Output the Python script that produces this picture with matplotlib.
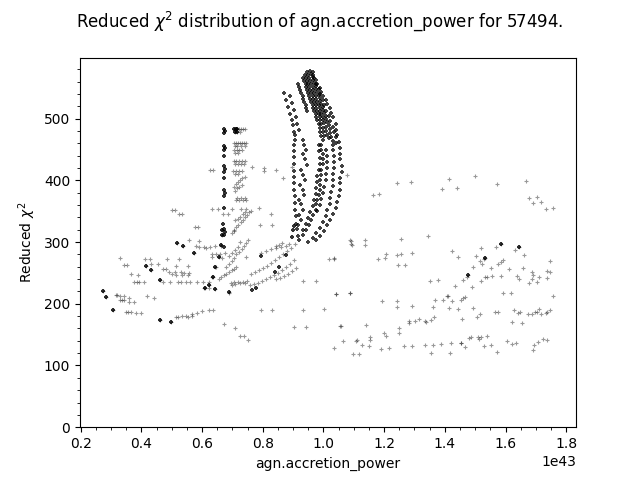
import numpy as np
import matplotlib
matplotlib.use("Agg")
import matplotlib.pyplot as plt

# x values in units of 1e43 (agn.accretion_power), y = reduced chi^2
left_x = [0.272,0.285,0.305,0.315,0.321,0.329,0.343,0.329,0.336,0.343,0.359,0.36,0.375,0.348,0.355,0.365,0.383,0.399,
          0.329,0.343,0.353,0.366,0.389,0.377,0.386,0.392,0.409,0.419,0.442,0.411,0.429,0.414,0.431,0.454,0.432,0.471,
          0.481,0.484,0.491,0.5,0.511,0.531,0.513,0.553,0.524,0.513,0.533,0.553,0.461,0.471,0.494,0.52,0.53,0.546,0.56,
          0.584,0.604,0.623,0.518,0.538,0.558,0.573,0.579,0.59,0.607,0.612,0.626,0.643,0.664,0.59,0.662,0.667,0.667,
          0.633,0.645,0.66,0.677,0.656,0.632,0.644,0.635,0.623,0.608,0.641,0.69,
          0.461,0.498,0.515,0.52,0.533,0.547,0.553,0.566,0.566,0.583,0.6,0.623,0.635,
          0.5,0.51,0.524,0.535,0.576,0.585,0.54,0.557,0.607,0.623,0.634,0.647,0.667]
left_y = [221,211,190,215,215,212,212,206,206,206,210,203,203,187,187,187,185,185,
          274,263,263,248,246,236,236,236,235,212,210,272,272,262,264,264,255,256,
          256,272,251,249,252,252,261,262,272,247,247,246,238,235,235,235,235,235,235,
          235,235,235,298,294,303,282,293,292,292,291,292,293,293,302,296,319,312,
          281,281,281,282,276,276,260,244,231,225,224,219,
          174,171,178,179,180,180,179,183,181,185,188,190,190,
          352,352,345,345,325,325,250,250,225,225,244,260,274]

# heavily overlapping (dark) points outside the big arcs
dark_x = [0.272,0.285,0.305,0.414,0.432,0.461,0.518,0.538,0.573,0.662,0.667,0.667,0.656,0.644,0.635,0.623,
          0.608,0.641,0.69,0.461,0.498,0.877,0.855,0.841,0.794,0.765,0.777,0.904,0.901,0.897,
          1.584,1.644,1.476,1.533,
          0.671,0.674,0.672,0.671,0.674,0.672,0.673,0.671,0.674,0.672,0.673,0.671,0.674,0.672,0.673,0.671,0.674,0.672,0.673,0.670,
          0.705,0.712,0.716,0.708,0.715]
dark_y = [221,211,190,262,255,238,298,294,282,296,319,312,276,260,244,231,
          225,224,219,174,171,279,260,252,277,222,225,326,320,309,
          297,292,246,274,
          484,480,477,456,453,450,440,423,418,413,404,385,380,374,356,322,317,311,292,330,
          483,483,483,478,478]

col_x = [0.705,0.712,0.716,0.722,0.729,0.736,0.742,0.708,0.715,0.725,
         0.705,0.712,0.718,0.725,0.732,0.739,0.745,0.708,0.715,0.729,0.742,
         0.705,0.715,0.722,0.732,0.709,0.719,
         0.705,0.712,0.722,0.732,0.742,0.708,0.718,0.728,0.738,
         0.702,0.712,0.722,0.732,0.708,0.718,
         0.705,0.712,0.719,0.726,0.733,0.740,0.708,0.716,0.723,0.730,
         0.712,0.722,0.735,0.745,0.716,0.728,0.740,
         0.627,0.637,0.766,0.805,0.805,0.844,0.895,0.868,
         0.632,0.654,0.669,0.684,0.700,0.728,0.744,0.788,0.827,
         0.705,0.712,0.72,0.727,0.734,0.741,0.748,0.755,0.762,0.71,0.718,0.726,0.735,0.742]
col_y = [483,483,483,483,483,483,483,478,478,478,
         461,461,461,461,461,461,461,456,456,456,456,
         450,450,450,450,445,445,
         432,432,432,432,432,427,427,427,427,
         415,415,415,415,410,410,
         390,394,398,401,404,406,383,387,390,393,
         368,368,368,368,372,372,372,
         417,417,421,420,416,417,422,404,
         353,353,346,346,353,353,353,355,346,
         320,324,328,332,336,340,344,348,351,335,338,341,345,349]

band_x = [0.656,0.664,0.672,0.68,0.689,0.697,0.705,0.713,
          0.68,0.689,0.697,0.705,0.713,0.722,0.73,0.737,0.744,0.75,
          0.69,0.70,0.71,0.717,0.724,0.70,0.705,
          0.696,0.706,0.72,0.736,0.749,0.744,
          0.673,0.71,0.725,0.738,0.75,0.689,0.698,0.71,0.725,0.74,
          0.907,0.894,0.881,0.868,0.855,0.841,0.828,0.815,0.802,0.789,0.775,0.762,
          0.904,0.891,0.878,0.864,0.851,0.838,0.825,0.812,0.798,0.785,0.772,0.759,
          0.911,0.898,0.884,0.871,0.858,0.845,
          0.795,0.811,0.828,0.845,0.861,0.878,0.888]
band_y = [240,243,246,249,252,254,257,260,
          259,265,270,275,280,284,289,294,299,303,
          278,282,287,292,300,314,318,
          234,236,235,236,237,276,
          168,161,147,147,141,218,230,232,233,234,
          297,291,286,281,276,271,266,262,258,255,252,249,
          271,265,260,255,250,247,243,240,237,234,232,230,
          258,253,248,245,242,240,
          283,286,288,291,292,294,297]

arc_x = [0.871,0.878,0.884,0.891,0.898,0.901,0.904,
         0.891,0.898,0.904,0.911,0.914,0.921,
         0.907,0.905,0.904,0.904,0.903,0.902,0.902,0.903,0.903,0.904,0.905,0.906,0.907,0.909,0.911,0.914,
         0.931,0.937,0.944,0.934,0.940,0.947,0.927,0.934,0.940,0.924,0.931,0.937,0.921,0.927,0.934,0.921,0.927,0.917,
         0.917,0.921,0.924,0.927,0.931,0.934,0.937,0.941,0.944,0.947,
         0.934,0.937,0.941,0.944,0.947,0.950,0.954,0.957,0.960,0.964,0.967,0.970,0.974,0.977,0.980,0.984,0.987,0.990,0.993,0.997,
         0.947,0.950,0.954,0.957,0.960,0.964,0.967,0.970,0.974,0.977,0.980,0.984,0.987,0.990,0.993,0.997,1.000,1.003,1.007,1.010,1.013,1.017,
         0.957,0.960,0.964,0.967,0.970,0.974,0.977,0.980,0.984,0.987,0.990,0.993,0.997,1.000,1.003,1.007,1.010,1.013,1.017,1.020,1.023,1.026,1.030,1.033,
         0.967,0.974,0.980,0.987,0.993,1.000,1.007,1.013,1.020,1.026,1.033,1.040,1.043,1.046,1.050,1.053,1.056,1.056,1.060,1.060,1.056,1.056,1.053,
         0.993,0.993,0.997,0.997,0.997,0.993,0.993,0.990,0.990,0.987,0.984,0.980,0.977,0.974,0.967,0.960,0.954,0.944,0.934,0.921,
         0.984,0.984,0.987,0.987,0.984,0.980,0.980,0.977,0.974,0.970,0.964,0.957,0.950,0.941,0.931,0.917,
         1.033,1.036,1.036,1.036,1.033,1.033,1.030,1.026,1.023,1.020,1.013,1.007,0.997,0.987,0.977,0.964,0.950,
         1.050,1.046,1.040,1.033,1.023,1.013,1.003,0.990,0.977,
         0.940,0.944,0.947,0.950,0.954,0.957,0.960,0.964,0.967,0.970,0.974,0.977,0.980,0.984,0.987,0.990,0.993,0.997,1.000,1.003,
         0.964,0.970,0.977,0.984,0.990,0.997,1.003,1.010,1.017,1.023,1.030,1.036,1.040,1.043,
         1.010,1.013,1.013,1.013,1.010,1.007,1.003,1.000,0.993,0.987,0.980]
arc_y = [542,530,519,508,498,489,479,
         537,526,514,503,492,482,
         474,466,457,448,438,427,416,406,395,384,374,363,352,342,330,322,
         466,458,450,442,434,425,417,409,401,393,385,377,369,361,352,344,336,328,
         557,552,547,542,537,532,527,522,517,512,
         566,561,556,552,547,542,537,532,527,522,517,513,508,503,498,492,485,479,472,466,
         576,571,566,561,556,552,547,542,537,532,527,522,517,513,508,503,498,493,487,480,474,468,
         578,573,568,563,558,553,548,544,539,534,529,524,519,514,509,505,500,495,490,484,477,471,464,458,
         570,563,557,550,544,537,531,524,518,510,502,492,482,473,463,453,443,434,424,414,404,395,385,
         458,450,442,434,426,417,409,401,393,385,377,369,361,352,344,336,328,320,312,304,
         458,447,437,427,417,407,398,388,378,369,359,349,339,330,320,310,
         450,440,430,420,411,401,391,381,372,362,352,343,333,323,315,307,300,
         375,365,356,346,336,327,318,310,304,
         571,566,561,556,552,547,542,537,532,527,522,517,513,508,503,498,492,485,479,472,
         575,566,557,548,540,531,522,513,505,496,487,478,470,461,
         450,440,430,420,410,400,390,380,370,360,350]

right_x = [0.932,0.974,0.794,0.832,0.932,1.003,0.904,0.943,1.056,0.792,0.829,0.844,0.855,0.865,1.086,1.092,1.018,1.036,
           1.042,1.086,1.077,
           1.242,1.289,1.414,1.500,1.391,1.441,1.573,1.666,1.163,1.183,1.679,1.705,1.692,1.718,1.734,1.758,
           1.090,1.137,1.094,1.137,1.256,1.345,1.035,1.180,1.203,1.207,1.242,1.254,1.292,1.246,1.269,1.424,1.444,
           1.520,1.570,1.584,1.632,1.644,1.662,1.748,1.502,1.529,1.533,1.516,1.522,1.494,1.576,1.584,1.592,1.613,
           1.659,1.553,1.472,1.476,1.459,1.533,1.538,1.518,1.557,1.584,1.637,1.646,1.686,1.690,1.686,1.677,1.712,
           1.703,1.736,1.748,1.736,1.352,1.378,1.434,1.490,1.593,1.619,1.758,1.041,1.087,
           1.193,1.242,1.242,1.292,1.368,1.361,1.394,1.406,1.412,1.424,1.414,1.444,1.452,1.460,1.467,1.494,1.516,
           1.506,1.457,1.565,1.576,1.629,1.642,1.647,1.675,1.686,1.697,1.703,1.712,1.718,1.732,1.738,1.748,
           1.622,1.655,1.283,1.283,1.302,1.315,1.336,1.339,1.355,1.365,1.249,1.249,1.199,1.205,1.140,1.057,
           1.034,1.064,1.107,1.110,1.127,1.097,1.117,1.153,1.153,1.150,1.190,1.216,1.266,1.292,
           1.335,1.361,1.388,1.421,1.452,1.452,1.355,1.418,1.467,1.480,1.486,1.510,1.513,1.519,1.540,1.529,1.553,
           1.573,1.606,1.622,1.636,1.689,1.695,1.708,1.725,1.738]
right_y = [237,237,190,190,190,192,162,162,164,327,327,293,296,298,304,297,272,273,
           216,217,409,
           396,397,402,407,386,387,394,399,377,378,371,373,363,365,354,355,
           302,303,295,295,305,310,274,272,274,280,279,280,282,263,263,285,276,
           290,292,297,287,292,279,270,277,273,274,269,264,260,265,268,271,256,
           258,258,244,246,238,243,244,237,245,245,245,240,251,247,240,233,243,
           235,253,251,242,237,238,229,227,217,217,212,216,217,
           204,204,195,197,206,195,206,212,212,204,193,191,206,210,211,193,184,
           178,175,187,186,190,185,187,183,183,187,187,191,183,185,187,190,
           170,169,172,169,172,176,172,170,173,179,160,152,152,147,165,164,
           129,139,140,141,133,118,118,146,141,132,127,128,131,131,
           133,133,135,137,137,136,120,120,130,144,146,146,143,146,147,131,134,
           122,139,135,137,125,134,138,143,141]

sparse_x = np.concatenate([left_x, col_x, band_x, right_x]) * 1e43
sparse_y = np.concatenate([left_y, col_y, band_y, right_y])
arcs_x = np.array(arc_x) * 1e43
darks_x = np.array(dark_x) * 1e43

fig, ax = plt.subplots(figsize=(6.4, 4.8), dpi=100)
ax.scatter(sparse_x, sparse_y, marker='+', s=9, linewidths=0.8, color='black', alpha=0.4)
ax.scatter(arcs_x, arc_y, marker='+', s=10, linewidths=1.4, color='black', alpha=0.75)
ax.scatter(darks_x, dark_y, marker='+', s=6, linewidths=1.5, color='black', alpha=0.8)
ax.set_ylim(0, 599)
ax.minorticks_on()
ax.set_xlabel("agn.accretion_power")
ax.set_ylabel(r"Reduced $\chi^2$")
fig.suptitle(r"Reduced $\chi^2$ distribution of agn.accretion_power for 57494.")
fig.savefig("out.png")
